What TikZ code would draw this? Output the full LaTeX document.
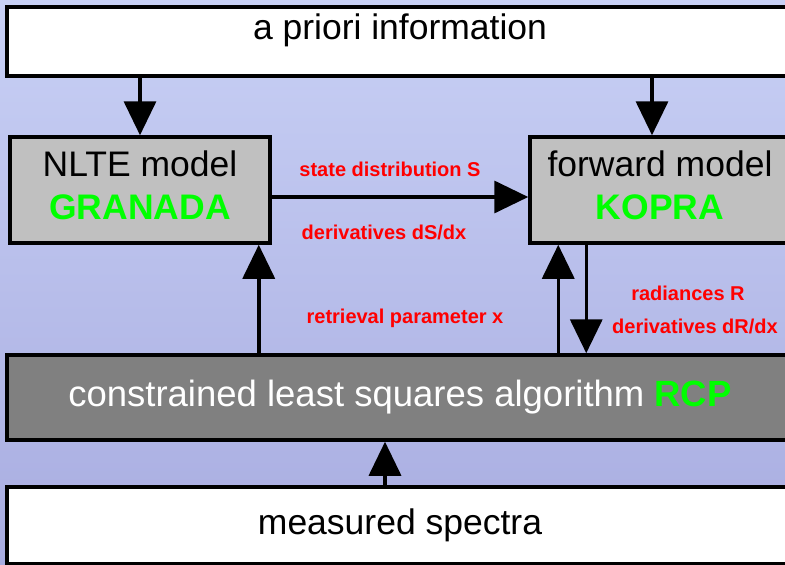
\documentclass[tikz,border=0pt]{standalone}
\usepackage{fontspec}
\setmainfont{Liberation Sans}
\usetikzlibrary{positioning, arrows.meta}
\definecolor{bgtop}{RGB}{200,208,245}
\definecolor{bgbottom}{RGB}{168,172,224}
\definecolor{modelgray}{RGB}{192,192,192}
\definecolor{algogray}{RGB}{128,128,128}
\definecolor{brightgreen}{RGB}{0,255,0}
\newcommand{\boxfont}{\fontsize{35.5}{43}\selectfont}
\newcommand{\grn}[1]{\textcolor{brightgreen}{\bfseries #1}}

\begin{document}
\begin{tikzpicture}[
	x=1pt,
	y=1pt,
	every box/.style={rectangle, draw, line width=3.5pt, inner sep=0pt, font=\boxfont},
	model box/.style={every box/.try, fill=modelgray, minimum width=260pt, minimum height=106pt, align=center, text height=69pt, text depth=10pt},
	wide box/.style={every box/.try, fill=white, minimum width=786pt},
	red label/.style={text=red, inner sep=0pt, font=\fontsize{20}{22}\selectfont\bfseries},
	flow/.style={->, line width=3.5pt},
	>={Triangle[length=34pt, width=32pt]}
]

\fill[top color=bgtop, bottom color=bgbottom] (0,0) rectangle (785,-565);
\useasboundingbox (0,0) rectangle (785,-565);

\node[wide box, minimum height=69pt, text height=26pt, text depth=30pt] (apriori) at (400,-41.5) {a priori information};
\node[model box] (nlte) at (140,-190) {NLTE model\\\grn{GRANADA}};
\node[model box] (fwd) at (660,-190) {forward model\\\grn{KOPRA}};
\node[wide box, fill=algogray, text=white, minimum height=85pt, font=\fontsize{36.5}{43}\selectfont] (cls) at (400,-397.5) {constrained least squares algorithm \grn{RCP}};
\node[wide box, minimum height=77pt] (meas) at (400,-525.5) {measured spectra};

\coordinate (fwdin) at ([xshift=-8pt]fwd.north);
\coordinate (nlteout) at ([yshift=-7pt]nlte.east);
\coordinate (nltein) at ([xshift=-13pt]nlte.south east);
\coordinate (fwdup) at ([xshift=30pt]fwd.south west);
\coordinate (fwddown) at ([xshift=58pt]fwd.south west);
\coordinate (measout) at ([xshift=-15pt]meas.north);

\draw[flow] (apriori.south -| nlte) -- (nlte.north);
\draw[flow] (apriori.south -| fwdin) -- (fwdin);
\draw[flow] (nlteout) -- coordinate (hmid) (fwd.west |- nlteout);
\draw[flow] (cls.north -| nltein) -- (nltein);
\draw[flow] (cls.north -| fwdup) -- (fwdup);
\draw[flow] (fwddown) -- (cls.north -| fwddown);
\draw[flow] (measout) -- (cls.south -| measout);

\node[red label, above=20pt of hmid, xshift=-10pt] (sdist) {state distribution S};
\node[red label, below=28pt of hmid, xshift=-16pt] (sderiv) {derivatives dS/dx};
\node[red label, above=25pt of cls.north, xshift=5pt] (param) {retrieval parameter x};
\node[red label, below=41pt of fwd.south, xshift=28pt] (rad) {radiances R};
\node[red label, below=18pt of rad, xshift=7pt] (rderiv) {derivatives dR/dx};

\end{tikzpicture}
\end{document}
